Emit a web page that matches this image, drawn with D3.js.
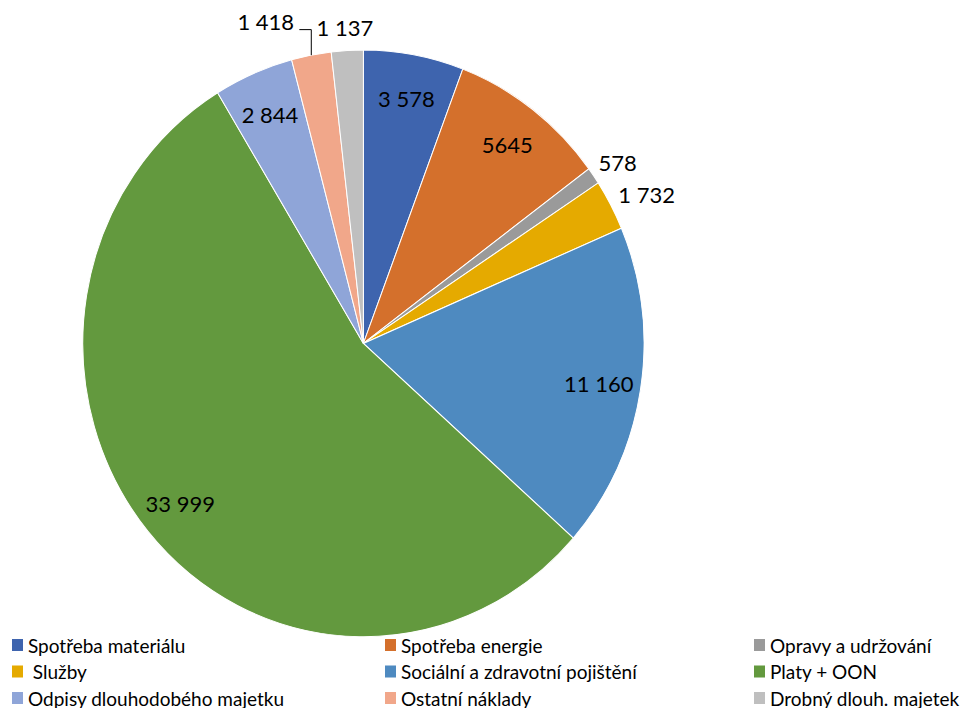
<!DOCTYPE html>
<html>
<head>
<meta charset="utf-8">
<script src="https://cdn.jsdelivr.net/npm/d3@7"></script>
<style>
  body { margin: 0; background: #fff; }
  text { font-family: Lato, "Open Sans", sans-serif; }
</style>
</head>
<body>
<div id="chart"></div>
<script>
const categories = [
  "Spotřeba materiálu", "Spotřeba energie", "Opravy a udržování",
  " Služby", "Sociální a zdravotní pojištění", "Platy + OON",
  "Odpisy dlouhodobého majetku", "Ostatní náklady", "Drobný dlouh. majetek"
];
const values = [3578, 5645, 578, 1732, 11160, 33999, 2844, 1418, 1137];
const labels = ["3 578", "5645", "578", "1 732", "11 160", "33 999", "2 844", "1 418", "1 137"];

const colors = ["#3E64AE", "#D4702C", "#9A9A9A", "#E5AA00", "#4E8AC0",
  "#63993E", "#8FA5D8", "#F1A78A", "#BFBFBF"];

const W = 974, H = 708;
const cx = 363.4, cy = 343.4;
const R = 280.6;
const squash = 293.3 / 280.6; // pie is a little taller than wide

const svg = d3.select("#chart").append("svg")
  .attr("width", W).attr("height", H);

const data = categories.map((c, i) => ({ name: c, value: values[i], label: labels[i], color: colors[i] }));

const pie = d3.pie().value(d => d.value).sort(null);
const arcs = pie(data);
const arcGen = d3.arc().innerRadius(0).outerRadius(R);

const pieG = svg.append("g")
  .attr("transform", `translate(${cx},${cy}) scale(1,${squash})`);

pieG.selectAll("path")
  .data(arcs)
  .enter().append("path")
  .attr("d", arcGen)
  .attr("fill", d => d.data.color)
  .attr("stroke", "#fff")
  .attr("stroke-width", 1);

// label placement: inside for big slices, outside for the small ones
const inner = d3.arc().innerRadius(R * 0.85).outerRadius(R * 0.85);
const edge = d3.arc().innerRadius(R).outerRadius(R);
const fontSize = 22;
const gap = 12;

const lbl = arcs.map(a => {
  const isOut = (a.endAngle - a.startAngle) < 15 * Math.PI / 180;
  const mid = (a.startAngle + a.endAngle) / 2;
  const dx = Math.sin(mid), dy = -Math.cos(mid);
  const e = edge.centroid(a);
  const ex = cx + e[0], ey = cy + e[1] * squash;
  const w = a.data.label.length * fontSize * 0.52, h = fontSize;
  let x, y;
  if (isOut) {
    x = ex + dx * gap + dx * w / 2;
    y = ey + dy * gap + dy * h / 2;
  } else {
    const p = inner.centroid(a);
    x = cx + p[0];
    y = cy + p[1] * squash;
  }
  return { a, isOut, x, y, ex, ey, w, shifted: false };
});

// push overlapping outside labels apart (earlier one moves left/up)
for (let i = lbl.length - 1; i > 0; i--) {
  const a = lbl[i], b = lbl[i - 1];
  if (!a.isOut || !b.isOut) continue;
  const overlapX = (b.x + b.w / 2 + 22) - (a.x - a.w / 2);
  if (overlapX > 0 && Math.abs(a.y - b.y) < fontSize) {
    b.x -= overlapX;
    b.y = a.y - 6;
    b.shifted = true;
  }
}

const lg = svg.append("g");

lg.selectAll("path.leader")
  .data(lbl.filter(d => d.shifted))
  .enter().append("path")
  .attr("class", "leader")
  .attr("fill", "none")
  .attr("stroke", "#000")
  .attr("stroke-width", 1)
  .attr("d", d => `M${d.x + d.w / 2 + 5},${d.y + 8}H${d.ex}V${d.ey}`);

lg.selectAll("text")
  .data(lbl)
  .enter().append("text")
  .attr("x", d => d.x)
  .attr("y", d => d.y)
  .attr("text-anchor", "middle")
  .attr("dominant-baseline", "central")
  .style("font-size", fontSize + "px")
  .attr("fill", "#000")
  .text(d => d.a.data.label);

// legend, 3 columns
const colX = d3.scaleOrdinal().domain([0, 1, 2]).range([12, 385, 754]);
const rowY = d3.scalePoint().domain([0, 1, 2]).range([645, 698]);

const leg = svg.selectAll(".legend")
  .data(data)
  .enter().append("g")
  .attr("class", "legend")
  .attr("transform", (d, i) => `translate(${colX(i % 3)},${rowY(Math.floor(i / 3))})`);

leg.append("rect")
  .attr("x", 0).attr("y", -6)
  .attr("width", 11).attr("height", 12)
  .attr("fill", d => d.color);

leg.append("text")
  .attr("x", 16)
  .attr("y", 0)
  .attr("dominant-baseline", "central")
  .style("font-size", "19px")
  .style("white-space", "pre")
  .attr("fill", "#000")
  .text(d => d.name);
</script>
</body>
</html>
